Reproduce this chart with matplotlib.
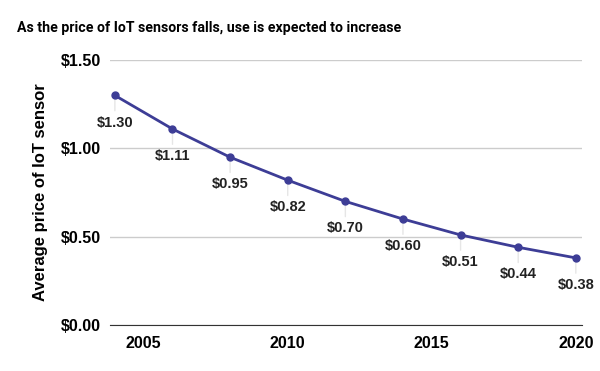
import matplotlib.pyplot as plt
from matplotlib.ticker import FuncFormatter

years = [2004, 2006, 2008, 2010, 2012, 2014, 2016, 2018, 2020]
prices = [1.30, 1.11, 0.95, 0.82, 0.70, 0.60, 0.51, 0.44, 0.38]
x_ticks = [2005, 2010, 2015, 2020]
y_ticks = [0.0, 0.5, 1.0, 1.5]

line_color = '#3d3d96'

fig = plt.figure(figsize=(6, 3.71), dpi=100)
ax = fig.add_axes([0.1833, 0.124, 0.786, 0.714])

ax.plot(years, prices, color=line_color, linewidth=2, marker='o',
        markersize=5, zorder=3)

# data labels below each point with a faint leader line
for x, y in zip(years, prices):
    ax.annotate(f'${y:.2f}', xy=(x, y), xytext=(0, -19.5),
                textcoords='offset points', ha='center', va='center',
                fontsize=10.5, fontweight='bold', family='Liberation Sans',
                color='#222222', zorder=4)
    ax.annotate('', xy=(x, y), xytext=(0, -11), textcoords='offset points',
                arrowprops=dict(arrowstyle='-', color='#e6e6e6', lw=1,
                                shrinkA=0, shrinkB=0), zorder=1)

ax.set_xlim(2003.83, 2020.2)
ax.set_ylim(0, 1.5)
ax.set_xticks(x_ticks)
ax.set_yticks(y_ticks)
ax.yaxis.set_major_formatter(FuncFormatter(lambda v, p: f'${v:.2f}'))

ax.grid(axis='y', color='#cccccc', linewidth=1)
ax.set_axisbelow(True)
for s in ['top', 'right', 'left']:
    ax.spines[s].set_visible(False)
ax.spines['bottom'].set_color('#333333')
ax.tick_params(length=0, labelsize=11.5)
ax.tick_params(axis='y', pad=6.5)
ax.tick_params(axis='x', pad=8)
for lbl in ax.get_xticklabels() + ax.get_yticklabels():
    lbl.set_fontweight('bold')
    lbl.set_family('Liberation Sans')

ax.set_ylabel('Average price of IoT sensor', fontsize=12, fontweight='bold',
              family='Liberation Sans', labelpad=9)

fig.text(0.028, 0.925, 'As the price of IoT sensors falls, use is expected to increase',
         fontsize=10.2, fontweight='bold', family='Roboto', va='center')

fig.savefig('out.png', dpi=100)
